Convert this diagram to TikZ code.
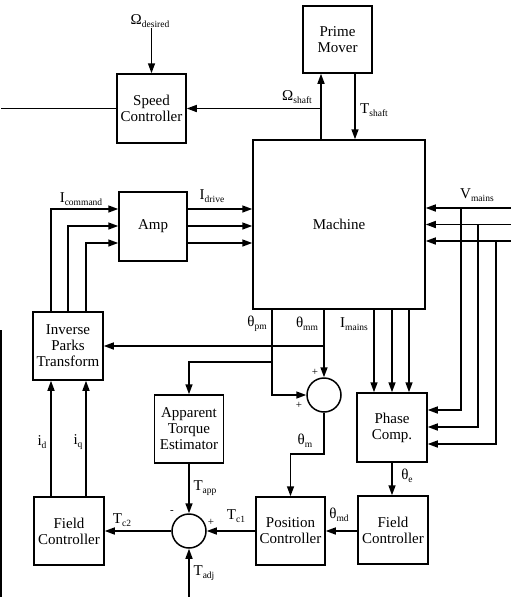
\documentclass[tikz,border=0pt]{standalone}
\usepackage{fontspec}
\setmainfont{Liberation Serif}
\usetikzlibrary{arrows.meta}
\newcommand{\sbs}[1]{\raisebox{-0.45ex}{\fontsize{9.5}{9.5}\selectfont #1}}
\begin{document}
\begin{tikzpicture}[x=1pt,y=-1pt,
  line width=1.5pt,
  blk/.style={draw, line width=1.5pt, align=center, inner sep=0pt,
    font=\fontsize{15}{16}\selectfont},
  sumc/.style={draw, circle, line width=1.5pt, minimum size=34pt, inner sep=0pt},
  lbl/.style={font=\fontsize{15}{16}\selectfont, inner sep=0pt},
  sgn/.style={font=\fontsize{11}{11}\selectfont, inner sep=0pt},
  arr/.style={-{Triangle[length=10pt,width=7pt]}},
]
\useasboundingbox (0,0) rectangle (511,597);

% blocks
\node[blk, minimum width=69pt, minimum height=69pt] (sc) at (151.5,108.5) {Speed\\Controller};
\node[blk, minimum width=69pt, minimum height=67pt] (pm) at (337.5,39.5) {Prime\\Mover};
\node[blk, minimum width=172pt, minimum height=169pt] (mach) at (339,224.5) {Machine};
\node[blk, minimum width=68pt, minimum height=69pt] (amp) at (153,226.5) {Amp};
\node[blk, minimum width=70pt, minimum height=68pt] (ipt) at (68,346) {Inverse\\Parks\\Transform};
\node[blk, minimum width=69pt, minimum height=68pt] (ate) at (189,429) {Apparent\\Torque\\Estimator};
\node[blk, minimum width=70pt, minimum height=68pt] (fcl) at (69,531) {Field\\Controller};
\node[blk, minimum width=69pt, minimum height=68pt] (pc) at (290.5,531) {Position\\Controller};
\node[blk, minimum width=70pt, minimum height=68pt] (fcr) at (393,530) {Field\\Controller};
\node[blk, minimum width=70pt, minimum height=69pt] (phc) at (392,427.5) {Phase\\Comp.};
\node[sumc] (s1) at (324,395) {};
\node[sumc] (s2) at (189,531) {};

% helper coordinates
\coordinate (xs) at (321,0);
\coordinate (xt) at (355,0);
\coordinate (a1) at (0,209);
\coordinate (a2) at (0,226);
\coordinate (a3) at (0,243);
\coordinate (p1) at (51,0);
\coordinate (p2) at (68,0);
\coordinate (p3) at (86,0);
\coordinate (v1) at (511,208);
\coordinate (v2) at (511,224.5);
\coordinate (v3) at (511,241);
\coordinate (w1) at (461,0);
\coordinate (w2) at (478,0);
\coordinate (w3) at (496,0);
\coordinate (q1) at (0,410);
\coordinate (q2) at (0,427);
\coordinate (q3) at (0,444);
\coordinate (m1) at (374,0);
\coordinate (m2) at (392,0);
\coordinate (m3) at (409,0);
\coordinate (xpm) at (272,0);
\coordinate (yate) at (0,362);
\coordinate (ym) at (0,454);
\coordinate (lft) at (1,108.5);
\coordinate (lfa) at (1,330);
\coordinate (lfb) at (1,597);
\coordinate (tadj) at (189,597);

% speed loop
\node[lbl] (odl) at (150,21) {Ω\sbs{desired}};
\draw[arr] (odl.south -| sc.north) -- (sc.north);
\draw[arr] (mach.north -| xs) -- (pm.south -| xs);
\draw[arr] (xs |- sc.east) -- (sc.east);
\draw[arr] (pm.south -| xt) -- (mach.north -| xt);
\draw (sc.west) -- (lft);
\draw (lfa) -- (lfb);

% amp
\draw[arr] (amp.east |- a1) -- (mach.west |- a1);
\draw[arr] (amp.east |- a2) -- (mach.west |- a2);
\draw[arr] (amp.east |- a3) -- (mach.west |- a3);
\draw[arr] (ipt.north -| p1) |- (amp.west |- a1);
\draw[arr] (ipt.north -| p2) |- (amp.west |- a2);
\draw[arr] (ipt.north -| p3) |- (amp.west |- a3);

% mains
\draw[arr] (v1) -- (mach.east |- v1);
\draw[arr] (v2) -- (mach.east |- v2);
\draw[arr] (v3) -- (mach.east |- v3);
\draw[arr] (w1 |- v1) |- (phc.east |- q1);
\draw[arr] (w2 |- v2) |- (phc.east |- q2);
\draw[arr] (w3 |- v3) |- (phc.east |- q3);
\draw[arr] (mach.south -| m1) -- (phc.north -| m1);
\draw[arr] (mach.south -| m2) -- (phc.north -| m2);
\draw[arr] (mach.south -| m3) -- (phc.north -| m3);

% position
\draw[arr] (mach.south -| s1.north) -- (s1.north);
\draw[arr] (s1.north |- ipt.east) -- (ipt.east);
\draw[arr] (mach.south -| xpm) |- (s1.west);
\draw[arr] (xpm |- yate) -| (ate.north);
\draw[arr] (s1.south) -- (s1.south |- ym) -| (pc.north);
\draw[arr] (phc.south) -- (phc.south |- fcr.north);
\draw[arr] (fcr.west |- pc.east) -- (pc.east);
\draw[arr] (pc.west) -- (s2.east);
\draw[arr] (s2.west) -- (fcl.east);
\draw[arr] (ate.south) -- (s2.north);
\draw[arr] (tadj) -- (s2.south);
\draw[arr] (fcl.north -| p1) -- (ipt.south -| p1);
\draw[arr] (fcl.north -| p3) -- (ipt.south -| p3);

% labels
\node[lbl] at (297,97) {Ω\sbs{shaft}};
\node[lbl] at (374,110) {T\sbs{shaft}};
\node[lbl] at (212,196) {I\sbs{drive}};
\node[lbl] at (81,199) {I\sbs{command}};
\node[lbl] at (477,195) {V\sbs{mains}};
\node[lbl] at (257,324) {θ\sbs{pm}};
\node[lbl] at (307,324) {θ\sbs{mm}};
\node[lbl] at (354,324) {I\sbs{mains}};
\node[sgn] at (315,372) {+};
\node[sgn] at (299,405) {+};
\node[lbl] at (305,441) {θ\sbs{m}};
\node[lbl] at (407,476) {θ\sbs{e}};
\node[lbl] at (339,515) {θ\sbs{md}};
\node[lbl] at (236,516) {T\sbs{c1}};
\node[sgn] at (211,522) {+};
\node[sgn] at (172,512) {-};
\node[lbl] at (205,488) {T\sbs{app}};
\node[lbl] at (122,520) {T\sbs{c2}};
\node[lbl] at (204,573) {T\sbs{adj}};
\node[lbl] at (42,442) {i\sbs{d}};
\node[lbl] at (78,442) {i\sbs{q}};
\end{tikzpicture}
\end{document}
